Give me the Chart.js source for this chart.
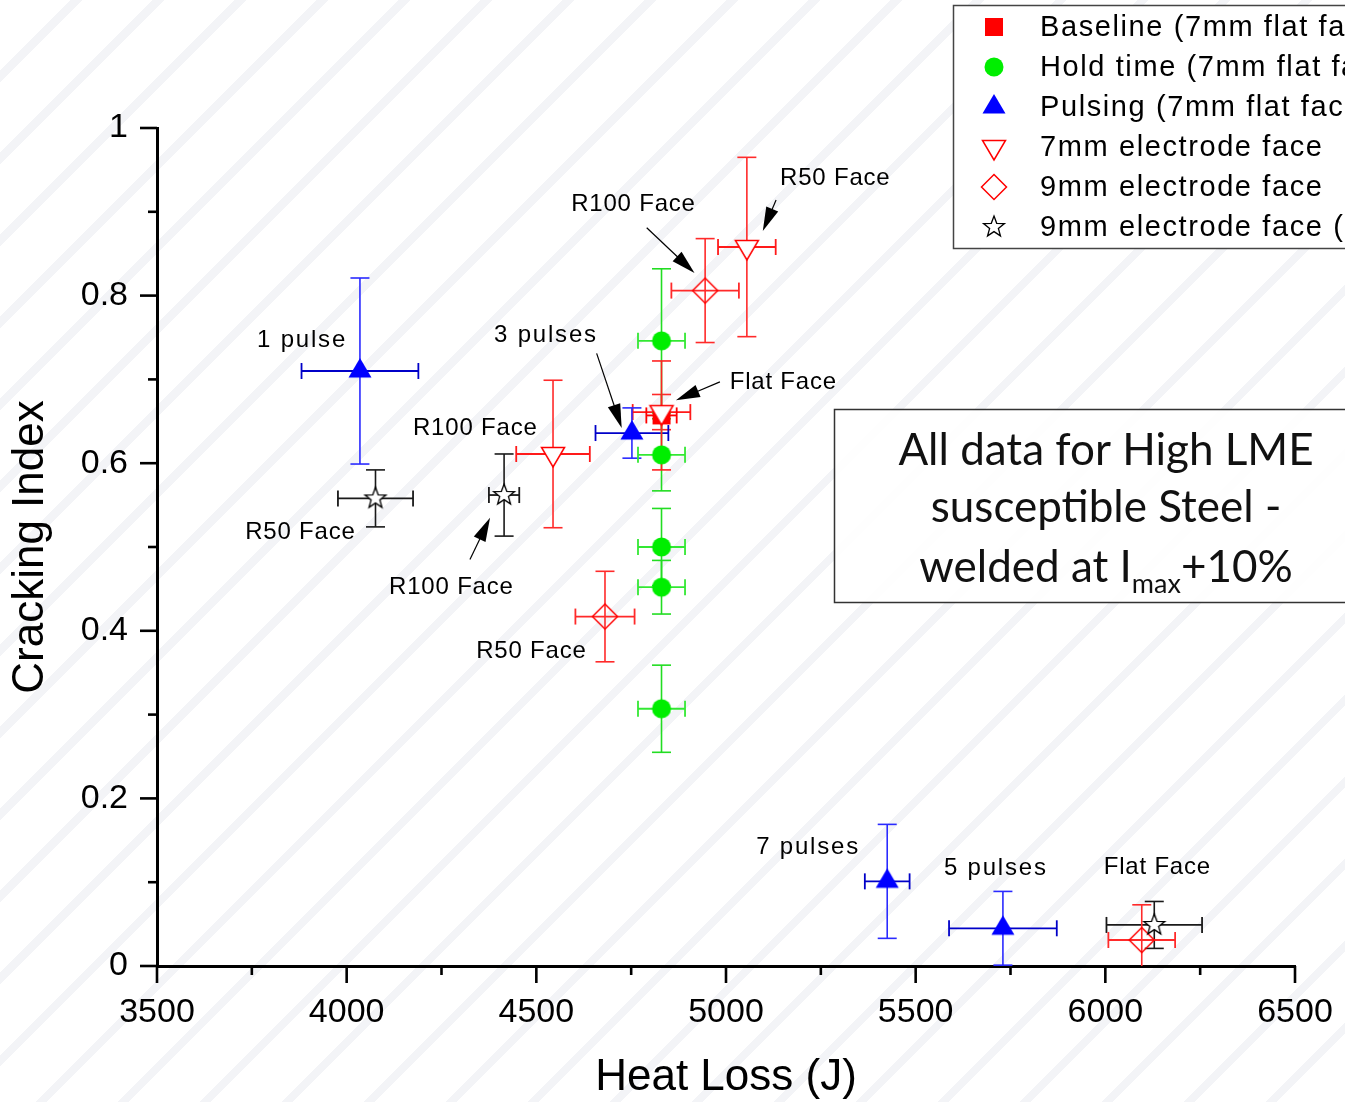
<!DOCTYPE html>
<html>
<head>
<meta charset="utf-8">
<script src="https://cdn.jsdelivr.net/npm/chart.js@4.4.0/dist/chart.umd.min.js"></script>
<style>
html, body { margin: 0; padding: 0; }
body {
    width: 1345px; height: 1102px; overflow: hidden;
    background: #fff repeating-linear-gradient(135deg, #fff 0px, #fff 50px, #f3f4f7 50px, #f3f4f7 58px);
}
canvas { display: block; }
</style>
</head>
<body>
<canvas id="myChart" width="1345" height="1102"></canvas>
<script>
// legend entries (last one is cut off by the picture edge)
var seriesNames = ["Baseline (7mm flat face)", "Hold time (7mm flat face)", "Pulsing (7mm flat face)",
    "7mm electrode face", "9mm electrode face", "9mm electrode face (s)"];

// heat loss (J), cracking index and their error bars, one group per series
var baselineX = [4830];
var baselineY = [0.657];
var baselineXErr = [40];
var baselineYErr = [0.065];

var holdX = [4830, 4830, 4830, 4830, 4830];
var holdY = [0.746, 0.610, 0.500, 0.452, 0.307];
var holdXErr = [62, 62, 62, 62, 62];
var holdYErr = [0.086, 0.043, 0.046, 0.032, 0.052];

var pulseX = [4035, 4752, 5425, 5730];
var pulseY = [0.710, 0.636, 0.101, 0.045];
var pulseXErr = [154, 96, 59, 142];
var pulseYErr = [0.111, 0.030, 0.068, 0.044];

var face7X = [5055, 4830, 4544];
var face7Y = [0.858, 0.661, 0.611];
var face7XErr = [76, 76, 97];
var face7YErr = [0.107, 0.021, 0.088];

var face9X = [4945, 4681, 6096];
var face9Y = [0.806, 0.417, 0.031];
var face9XErr = [89, 78, 88];
var face9YErr = [0.062, 0.054, 0.042];

var face9sX = [4076, 4415, 6129];
var face9sY = [0.558, 0.562, 0.049];
var face9sXErr = [99, 40, 126];
var face9sYErr = [0.034, 0.049, 0.028];

var xTicks = [3500, 4000, 4500, 5000, 5500, 6000, 6500];
var yTicks = [0, 0.2, 0.4, 0.6, 0.8, 1];

// point labels, placed in data units; arrow = [fromX, fromY, toX, toY]
var notes = [
    {text: "R50 Face", x: 5287, y: 0.940, arrow: [5132, 0.914, 5097, 0.877]},
    {text: "R100 Face", x: 4755, y: 0.909, arrow: [4791, 0.881, 4917, 0.827]},
    {text: "3 pulses", x: 4523, y: 0.752, arrow: [4659, 0.731, 4725, 0.642]},
    {text: "Flat Face", x: 5150, y: 0.697, arrow: [4984, 0.697, 4868, 0.675]},
    {text: "R100 Face", x: 4338, y: 0.641},
    {text: "1 pulse", x: 3880, y: 0.746},
    {text: "R50 Face", x: 3877, y: 0.517},
    {text: "R100 Face", x: 4275, y: 0.452, arrow: [4325, 0.485, 4378, 0.535]},
    {text: "R50 Face", x: 4486, y: 0.376},
    {text: "7 pulses", x: 5214, y: 0.142},
    {text: "5 pulses", x: 5709, y: 0.117},
    {text: "Flat Face", x: 6136, y: 0.118}
];

function makeMarker(kind) {
    var c = document.createElement('canvas');
    c.width = 32;
    c.height = 32;
    var g = c.getContext('2d');
    g.translate(16, 16);
    g.lineWidth = 1.5;
    g.beginPath();
    if (kind === 'square') {
        g.rect(-9, -9, 18, 18);
        g.fillStyle = '#ff0000';
        g.fill();
    } else if (kind === 'circle') {
        g.arc(0, 0, 9.5, 0, Math.PI * 2);
        g.fillStyle = '#00ee00';
        g.fill();
    } else if (kind === 'up') {
        g.moveTo(0, -13); g.lineTo(11.5, 6.5); g.lineTo(-11.5, 6.5); g.closePath();
        g.fillStyle = '#0000ff';
        g.fill();
    } else if (kind === 'down') {
        g.moveTo(-11.5, -6.5); g.lineTo(11.5, -6.5); g.lineTo(0, 13); g.closePath();
        g.fillStyle = '#fff'; g.fill();
        g.strokeStyle = '#ff0000'; g.stroke();
    } else if (kind === 'diamond') {
        g.moveTo(0, -12.5); g.lineTo(12.5, 0); g.lineTo(0, 12.5); g.lineTo(-12.5, 0); g.closePath();
        g.strokeStyle = '#ff0000'; g.stroke();
    } else if (kind === 'star') {
        for (var k = 0; k < 10; k++) {
            var r = k % 2 ? 4.6 : 11;
            var an = -Math.PI / 2 + k * Math.PI / 5;
            g.lineTo(r * Math.cos(an), r * Math.sin(an));
        }
        g.closePath();
        g.fillStyle = '#fff'; g.fill();
        g.strokeStyle = '#000'; g.lineWidth = 1.3; g.stroke();
    }
    return c;
}

function pts(xs, ys) {
    return xs.map(function(x, i) { return {x: x, y: ys[i]}; });
}

var markers = ['square', 'circle', 'up', 'down', 'diamond', 'star'].map(makeMarker);

function series(i, xs, ys, xe, ye, hColor, vColor, order) {
    return {
        label: seriesNames[i],
        data: pts(xs, ys),
        xErr: xe,
        yErr: ye,
        hColor: hColor,
        vColor: vColor,
        pointStyle: markers[i],
        pointRadius: 10,
        pointHoverRadius: 10,
        showLine: false,
        order: order
    };
}

function line(c, x1, y1, x2, y2) {
    c.beginPath();
    c.moveTo(x1, y1);
    c.lineTo(x2, y2);
    c.stroke();
}

function spaced(c, text, x, y, spacing) {
    c.letterSpacing = spacing + 'px';
    var w = c.measureText(text).width - spacing;
    c.fillText(text, x - w / 2, y);
    c.letterSpacing = '0px';
}

var errorBars = {
    id: 'errorBars',
    beforeDatasetsDraw: function(chart) {
        var c = chart.ctx, xs = chart.scales.x, ys = chart.scales.y, a = chart.chartArea;
        c.save();
        c.beginPath();
        c.rect(a.left, a.top, a.right - a.left, a.bottom - a.top);
        c.clip();
        chart.data.datasets.slice().reverse().forEach(function(ds) {
            ds.data.forEach(function(p, i) {
                var cx = xs.getPixelForValue(p.x), cy = ys.getPixelForValue(p.y);
                var x0 = xs.getPixelForValue(p.x - ds.xErr[i]), x1 = xs.getPixelForValue(p.x + ds.xErr[i]);
                var y0 = ys.getPixelForValue(p.y - ds.yErr[i]), y1 = ys.getPixelForValue(p.y + ds.yErr[i]);
                c.lineWidth = 1.6;
                c.strokeStyle = ds.vColor;
                line(c, cx, y0, cx, y1);
                line(c, cx - 9.5, y0, cx + 9.5, y0);
                line(c, cx - 9.5, y1, cx + 9.5, y1);
                c.lineWidth = 1.8;
                c.strokeStyle = ds.hColor;
                line(c, x0, cy, x1, cy);
                line(c, x0, cy - 8, x0, cy + 8);
                line(c, x1, cy - 8, x1, cy + 8);
            });
        });
        c.restore();
    }
};

var decor = {
    id: 'decor',
    afterDraw: function(chart) {
        var c = chart.ctx, xs = chart.scales.x, ys = chart.scales.y, a = chart.chartArea;
        c.save();

        // major and minor tick marks
        c.strokeStyle = '#000';
        c.lineWidth = 2.6;
        xTicks.forEach(function(v, i) {
            var px = xs.getPixelForValue(v);
            line(c, px, a.bottom, px, a.bottom + 17);
            if (i < xTicks.length - 1) {
                var m = xs.getPixelForValue((v + xTicks[i + 1]) / 2);
                line(c, m, a.bottom, m, a.bottom + 9);
            }
        });
        yTicks.forEach(function(v, i) {
            var py = ys.getPixelForValue(v);
            line(c, a.left, py, a.left - 17, py);
            if (i < yTicks.length - 1) {
                var m = ys.getPixelForValue((v + yTicks[i + 1]) / 2);
                line(c, a.left, m, a.left - 9, m);
            }
        });

        // annotations with arrows
        c.fillStyle = '#000';
        c.strokeStyle = '#000';
        c.textBaseline = 'middle';
        notes.forEach(function(n) {
            var pulse = n.text.indexOf('puls') >= 0;
            c.font = '24px "Liberation Sans", Arial, sans-serif';
            spaced(c, n.text, xs.getPixelForValue(n.x), ys.getPixelForValue(n.y), pulse ? 1.8 : 0.8);
            if (n.arrow) {
                var fx = xs.getPixelForValue(n.arrow[0]), fy = ys.getPixelForValue(n.arrow[1]);
                var tx = xs.getPixelForValue(n.arrow[2]), ty = ys.getPixelForValue(n.arrow[3]);
                var ang = Math.atan2(ty - fy, tx - fx);
                var hl = 24, hw = 6.5;
                c.lineWidth = 1.2;
                line(c, fx, fy, tx - Math.cos(ang) * hl * 0.8, ty - Math.sin(ang) * hl * 0.8);
                c.beginPath();
                c.moveTo(tx, ty);
                c.lineTo(tx - Math.cos(ang) * hl - Math.sin(ang) * hw, ty - Math.sin(ang) * hl + Math.cos(ang) * hw);
                c.lineTo(tx - Math.cos(ang) * hl + Math.sin(ang) * hw, ty - Math.sin(ang) * hl - Math.cos(ang) * hw);
                c.closePath();
                c.fill();
            }
        });

        // legend box
        c.fillStyle = '#fff';
        c.fillRect(953, 5, 420, 243);
        c.strokeStyle = '#444';
        c.lineWidth = 1.5;
        c.strokeRect(953.5, 5.5, 420, 243);
        c.font = '29px "Liberation Sans", Arial, sans-serif';
        c.textBaseline = 'middle';
        c.fillStyle = '#000';
        chart.data.datasets.forEach(function(ds, i) {
            var ry = 27 + i * 40;
            c.drawImage(markers[i], 994 - 16, ry - 16);
            c.letterSpacing = '1.6px';
            c.fillText(ds.label, 1040, ry + 1);
            c.letterSpacing = '0px';
        });

        // note box
        c.fillStyle = 'rgba(255,255,255,0.85)';
        c.fillRect(834, 409, 530, 193);
        c.strokeStyle = '#333';
        c.strokeRect(834.5, 409.5, 530, 193);
        c.fillStyle = '#111';
        c.textBaseline = 'alphabetic';
        var big = '44px Lato, "Open Sans", sans-serif';
        var small = '27px Lato, "Open Sans", sans-serif';
        c.font = big;
        c.textAlign = 'center';
        c.fillText('All data for High LME', 1106, 465);
        c.fillText('susceptible Steel -', 1106, 522);
        c.textAlign = 'left';
        var w1 = c.measureText('welded at I').width, w3 = c.measureText('+10%').width;
        c.font = small;
        var w2 = c.measureText('max').width;
        var sx = 1106 - (w1 + w2 + w3) / 2;
        c.font = big;
        c.fillText('welded at I', sx, 582);
        c.font = small;
        c.fillText('max', sx + w1, 593);
        c.font = big;
        c.fillText('+10%', sx + w1 + w2, 582);

        c.restore();
    }
};

var ctx = document.getElementById('myChart').getContext('2d');
var chart = new Chart(ctx, {
    type: 'scatter',
    data: {
        datasets: [
            series(0, baselineX, baselineY, baselineXErr, baselineYErr, '#ff0000', '#ff2222', 6),
            series(1, holdX, holdY, holdXErr, holdYErr, '#33e833', '#22dd22', 5),
            series(2, pulseX, pulseY, pulseXErr, pulseYErr, '#0000c8', '#2a2aff', 2),
            series(3, face7X, face7Y, face7XErr, face7YErr, '#ff1a1a', '#ff2a2a', 1),
            series(4, face9X, face9Y, face9XErr, face9YErr, '#ff2a2a', '#ff2a2a', 4),
            series(5, face9sX, face9sY, face9sXErr, face9sYErr, '#1a1a1a', '#1a1a1a', 3)
        ]
    },
    options: {
        responsive: false,
        animation: false,
        layout: { padding: { top: 128, right: 50, left: 0, bottom: 0 } },
        plugins: { legend: { display: false }, tooltip: { enabled: false } },
        scales: {
            x: {
                type: 'linear',
                min: 3500,
                max: 6500,
                afterFit: function(s) { s.height = 136; s.paddingLeft = 0; s.paddingRight = 0; },
                afterBuildTicks: function(s) { s.ticks = xTicks.map(function(v) { return {value: v}; }); },
                grid: { display: false, drawTicks: false, tickLength: 0 },
                border: { display: true, color: '#000', width: 3 },
                ticks: {
                    padding: 26,
                    maxRotation: 0,
                    color: '#000',
                    font: { family: '"Liberation Sans", Arial, sans-serif', size: 34 },
                    callback: function(v) { return String(v); }
                },
                title: {
                    display: true,
                    text: 'Heat Loss (J)',
                    color: '#000',
                    padding: { top: 0, bottom: 0 },
                    font: { family: '"Liberation Sans", Arial, sans-serif', size: 44, lineHeight: 1.1 }
                }
            },
            y: {
                type: 'linear',
                min: 0,
                max: 1,
                afterFit: function(s) { s.width = 157; s.paddingTop = 0; s.paddingBottom = 0; },
                afterBuildTicks: function(s) { s.ticks = yTicks.map(function(v) { return {value: v}; }); },
                grid: { display: false, drawTicks: false, tickLength: 0 },
                border: { display: true, color: '#000', width: 3 },
                ticks: {
                    padding: 29,
                    color: '#000',
                    font: { family: '"Liberation Sans", Arial, sans-serif', size: 34 },
                    callback: function(v) { return String(v); }
                },
                title: {
                    display: true,
                    text: 'Cracking Index',
                    color: '#000',
                    padding: { top: 7, bottom: 0 },
                    font: { family: '"Liberation Sans", Arial, sans-serif', size: 44, lineHeight: 1.1 }
                }
            }
        }
    },
    plugins: [errorBars, decor]
});
</script>
</body>
</html>
